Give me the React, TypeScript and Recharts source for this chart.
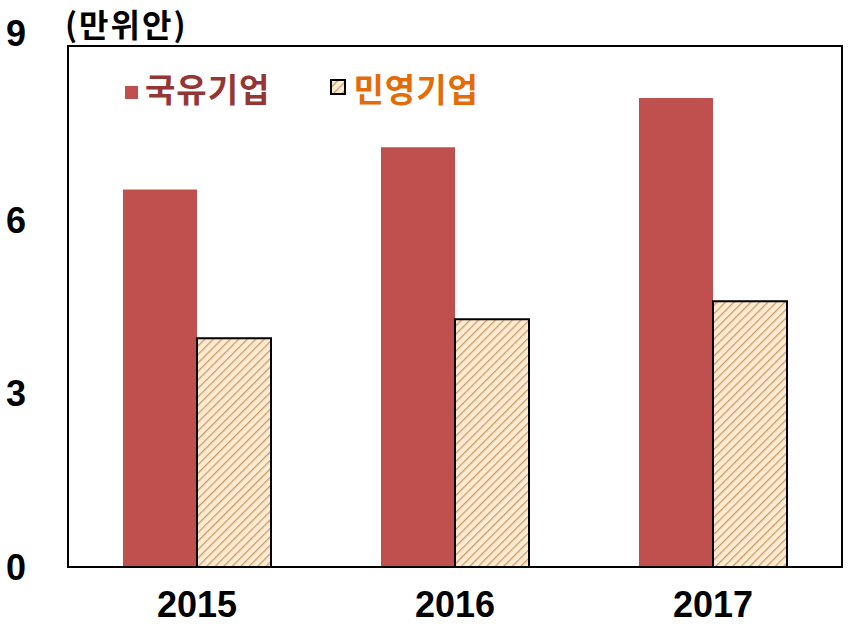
import { BarChart, Bar, XAxis, YAxis, ReferenceArea } from "recharts";

const years = ["2015", "2016", "2017"];
const stateOwned = [6.52, 7.25, 8.1];
const privateOwned = [3.95, 4.28, 4.59];
const yTicks = [0, 3, 6, 9];

const data = years.map((y, i) => ({ year: y, soe: stateOwned[i], poe: privateOwned[i] }));

const FONT = "'Liberation Sans', Arial, 'Noto Sans CJK KR', sans-serif";
const KFONT = "'Noto Sans CJK KR', sans-serif";

// 상단 눈금 "9"는 원본에서 살짝 위로 올라가 있음
function YTick(props: any) {
    const { x, y, payload } = props;
    const dy = payload.value === 9 ? -13 : 0;
    return (
        <text x={x} y={y + dy} dy="0.36em" textAnchor="end" fontFamily={FONT} fontWeight="bold" fontSize={36} fill="#000">
            {payload.value}
        </text>
    );
}

function Hatch({ id }: { id: string }) {
    return (
        <pattern id={id} patternUnits="userSpaceOnUse" width={6} height={6} patternTransform="rotate(45)">
            <rect width={6} height={6} fill="#FDEBD3" />
            <line x1={0} y1={0} x2={0} y2={6} stroke="#D09A62" strokeWidth={2.6} />
        </pattern>
    );
}

function LegendBox() {
    return (
        <div style={{ position: "absolute", left: 125, top: 68, display: "flex", alignItems: "center", fontFamily: KFONT, fontWeight: "bold", fontSize: 33, letterSpacing: 1, lineHeight: "40px", zIndex: 2 }}>
            <span style={{ width: 13, height: 13, background: "#C0504D", display: "inline-block", marginRight: 7, marginTop: 8 }} />
            <span style={{ color: "#943634" }}>국유기업</span>
            <svg width={16} height={16} style={{ marginLeft: 60, marginRight: 7, marginTop: -2 }}>
                <defs>
                    <Hatch id="hatch-legend" />
                </defs>
                <rect x={1} y={1} width={14} height={14} fill="url(#hatch-legend)" stroke="#000" strokeWidth={2} />
            </svg>
            <span style={{ color: "#E36C09" }}>민영기업</span>
        </div>
    );
}

export default function App() {
    return (
        <div style={{ position: "absolute", left: 0, top: 0, width: 852, height: 624, background: "#fff" }}>
            <div style={{ position: "absolute", left: 65, top: 3, fontFamily: KFONT, fontWeight: "bold", fontSize: 32, letterSpacing: 2, lineHeight: "40px", zIndex: 2 }}>
                (만위안)
            </div>
            <LegendBox />
            <BarChart
                width={852}
                height={624}
                data={data}
                margin={{ top: 46, right: 10, left: 0, bottom: 0 }}
                barCategoryGap={55}
                barGap={0}
            >
                <defs>
                    <Hatch id="hatch" />
                </defs>
                <XAxis
                    dataKey="year"
                    height={57}
                    tickSize={0}
                    tickMargin={24}
                    axisLine={{ stroke: "#000", strokeWidth: 2 }}
                    tick={{ fontFamily: FONT, fontWeight: "bold", fontSize: 36, fill: "#000" }}
                />
                <YAxis
                    domain={[0, 9]}
                    ticks={yTicks}
                    width={68}
                    tickSize={0}
                    tickMargin={42}
                    axisLine={{ stroke: "#000", strokeWidth: 2 }}
                    tick={<YTick />}
                    interval={0}
                />
                <ReferenceArea x1="2015" x2="2017" y1={0} y2={9} fill="none" stroke="#000" strokeWidth={2} ifOverflow="visible" />
                <Bar dataKey="soe" name="국유기업" fill="#C0504D" isAnimationActive={false} />
                <Bar dataKey="poe" name="민영기업" fill="url(#hatch)" stroke="#000" strokeWidth={2} isAnimationActive={false} />
            </BarChart>
        </div>
    );
}
